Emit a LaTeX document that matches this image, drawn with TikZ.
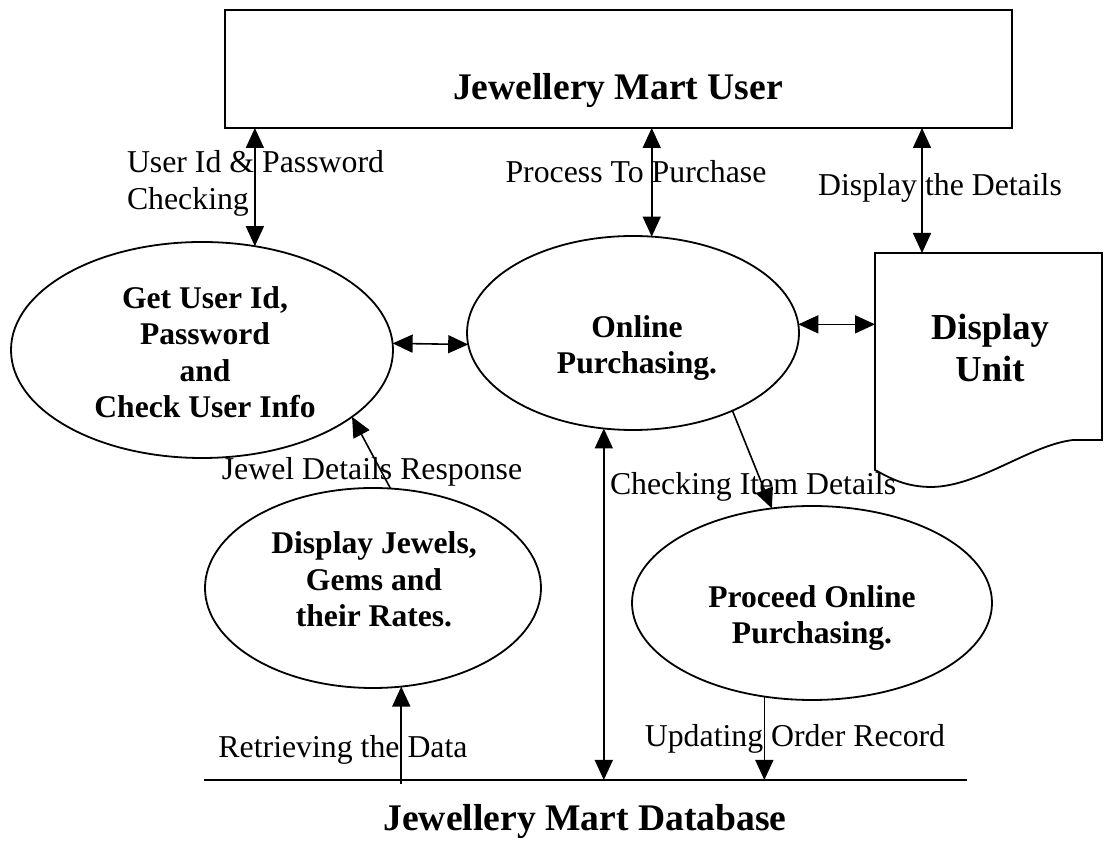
\documentclass[tikz,border=0pt]{standalone}
\usepackage{fontspec}
\setmainfont{Liberation Serif}
\usetikzlibrary{shapes.geometric,arrows.meta}
\begin{document}
\begin{tikzpicture}[x=0.5pt,y=-0.5pt,
  every node/.style={inner sep=0pt,outer sep=0pt},
  shapeline/.style={line width=0.9pt},
  proc/.style={ellipse,draw,line width=0.9pt},
  flow/.style={line width=0.8pt,-{Triangle[length=10pt,width=9pt]}},
  biflow/.style={line width=0.8pt,{Triangle[length=10pt,width=9pt]}-{Triangle[length=10pt,width=9pt]}},
  lbl/.style={font=\fontsize{15.9}{18.5}\selectfont,anchor=base},
  ptext/.style={font=\bfseries\fontsize{15.8}{18.3}\selectfont,align=center,anchor=base},
  bigtext/.style={font=\bfseries\fontsize{18.8}{22}\selectfont,anchor=base},
  disptext/.style={font=\bfseries\fontsize{18.3}{21.2}\selectfont,align=center,anchor=base}]
\useasboundingbox (0,0) rectangle (1104,854);

% external entity
\node[draw,shapeline,minimum width=393.5pt,minimum height=59pt] (user) at (618.5,69) {};
\node[bigtext] (usertitle) at (618,100) {Jewellery Mart User};

% processes (text nodes are placed by the baseline of their last line)
\node[proc,minimum width=191pt,minimum height=108pt] (e1) at (202,350) {};
\node[ptext] (e1text) at (205,418) {Get User Id,\\Password\\and\\Check User Info};
\node[proc,minimum width=166pt,minimum height=97pt] (e2) at (633,333) {};
\node[ptext] (e2text) at (637,374) {Online\\Purchasing.};
\node[proc,minimum width=168pt,minimum height=100pt] (e3) at (373,588) {};
\node[ptext] (e3text) at (374,627) {Display Jewels,\\Gems and\\their Rates.};
\node[proc,minimum width=180pt,minimum height=97pt] (e4) at (812,603) {};
\node[ptext] (e4text) at (812,644) {Proceed Online\\Purchasing.};

% display unit (document shape)
\node[minimum width=113.5pt,minimum height=108.5pt] (disp) at (988.5,361.5) {};
\draw[shapeline] (disp.north west) -- (disp.north east) -- ([yshift=15pt]disp.south east)
  -- (1073,440) .. controls (1030,445) and (980,486) .. (932,487)
  .. controls (905,487) and (890,478) .. (disp.south west) -- cycle;
\node[disptext] (disptitle) at (990,382) {Display\\Unit};
\coordinate (dtop) at ([xshift=23.5pt]disp.north west);

% data store
\coordinate (dbL) at (204,780);
\coordinate (dbR) at (967,780);
\draw[line width=1pt] (dbL) -- (dbR);
\node[bigtext] (dbtitle) at (585,831) {Jewellery Mart Database};

% data flows
\draw[biflow] (user.south -| e1.63) -- (e1.63);
\draw[biflow] (user.south -| e2.79) -- (e2.79);
\draw[biflow] (user.south -| dtop) -- (dtop);
\draw[biflow] (e1.2) -- (e2.184);
\draw[biflow] (e2.3) -- (e2.3 -| disp.west);
\draw[biflow] (e2.-107) -- (e2.-107 |- dbL);
\draw[flow] (e2.-38) -- (e4.113);
\draw[flow] (e3.80) -- (e1.-24);
\coordinate (retr) at ([yshift=-2pt]e3.-74 |- dbL);
\draw[flow] (retr) -- (e3.-74);
\draw[flow] (e4.-117) -- (e4.-117 |- dbL);

% flow labels
\node[lbl,anchor=base west,align=left] (l1) at (127,210) {User Id \& Password\\Checking};
\node[lbl] (l2) at (636,183) {Process To Purchase};
\node[lbl] (l3) at (940,196) {Display the Details};
\node[lbl] (l4) at (372,480) {Jewel Details Response};
\node[lbl,anchor=base west] (l5) at (610,495) {Checking Item Details};
\node[lbl] (l6) at (343,758) {Retrieving the Data};
\node[lbl] (l7) at (795,747) {Updating Order Record};
\end{tikzpicture}
\end{document}
